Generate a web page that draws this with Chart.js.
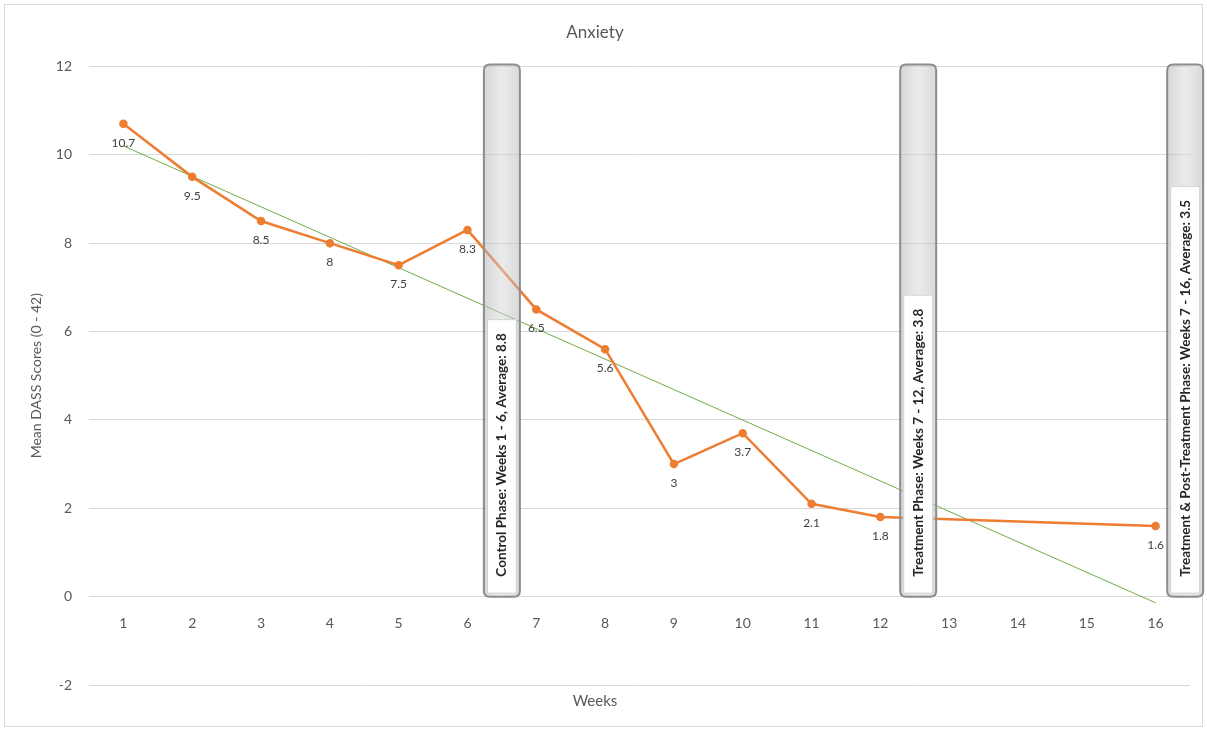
<!DOCTYPE html>
<html>
<head>
<meta charset="utf-8">
<script src="https://cdn.jsdelivr.net/npm/chart.js@4.4.1/dist/chart.umd.min.js"></script>
<style>
  html, body { margin: 0; padding: 0; background: #fff; }
  #wrap { width: 1207px; height: 731px; }
</style>
</head>
<body>
<div id="wrap"><canvas id="anxiety-chart"></canvas></div>
<script>
// weeks 13-15 have no score
const weeks = [1, 2, 3, 4, 5, 6, 7, 8, 9, 10, 11, 12, 13, 14, 15, 16];
const anxietyScores = [10.7, 9.5, 8.5, 8, 7.5, 8.3, 6.5, 5.6, 3, 3.7, 2.1, 1.8, null, null, null, 1.6];
const trendWeeks = [1, 16];
const trendValues = [10.2, -0.14];
const yTicks = [-2, 0, 2, 4, 6, 8, 10, 12];
const phaseLabels = [
    'Control Phase: Weeks 1 - 6, Average: 8.8',
    'Treatment Phase: Weeks 7 - 12, Average: 3.8',
    'Treatment & Post-Treatment Phase: Weeks 7 - 16, Average: 3.5'
];
const phaseWeeks = [6.5, 12.55, 16.43];

const fontFamily = 'Lato, "Open Sans", sans-serif';
const textColor = '#595959';

function roundRect(ctx, x, y, w, h, r) {
    ctx.beginPath();
    ctx.moveTo(x + r, y);
    ctx.lineTo(x + w - r, y);
    ctx.quadraticCurveTo(x + w, y, x + w, y + r);
    ctx.lineTo(x + w, y + h - r);
    ctx.quadraticCurveTo(x + w, y + h, x + w - r, y + h);
    ctx.lineTo(x + r, y + h);
    ctx.quadraticCurveTo(x, y + h, x, y + h - r);
    ctx.lineTo(x, y + r);
    ctx.quadraticCurveTo(x, y, x + r, y);
    ctx.closePath();
}

// outer frame of the chart
const framePlugin = {
    id: 'frame',
    beforeDraw(chart) {
        const ctx = chart.ctx;
        ctx.save();
        ctx.fillStyle = '#fff';
        ctx.fillRect(0, 0, chart.width, chart.height);
        ctx.strokeStyle = '#d9d9d9';
        ctx.lineWidth = 1;
        ctx.strokeRect(4.5, 4.5, chart.width - 9, chart.height - 9);
        ctx.restore();
    }
};

// point labels under each marker
const pointLabelPlugin = {
    id: 'pointLabels',
    afterDatasetsDraw(chart) {
        const ctx = chart.ctx;
        const meta = chart.getDatasetMeta(0);
        ctx.save();
        ctx.font = '12px ' + fontFamily;
        ctx.fillStyle = '#404040';
        ctx.textAlign = 'center';
        ctx.textBaseline = 'middle';
        meta.data.forEach((pt, i) => {
            const v = anxietyScores[i];
            if (v === null) return;
            ctx.fillText(String(v), pt.x, pt.y + 19);
        });
        ctx.restore();
    }
};

// the grey phase call-outs
const phasePlugin = {
    id: 'phases',
    afterDatasetsDraw(chart) {
        const ctx = chart.ctx;
        const xs = chart.scales.x;
        const ys = chart.scales.y;
        const top = ys.getPixelForValue(12) - 2;
        const bottom = ys.getPixelForValue(0);
        const w = 36;
        ctx.save();
        ctx.font = 'bold 13.5px ' + fontFamily;
        phaseLabels.forEach((label, i) => {
            const cx = xs.getPixelForValue(phaseWeeks[i]);
            const left = cx - w / 2;
            const textW = ctx.measureText(label).width;
            const textStart = bottom - 20;
            const whiteTop = textStart - textW - 14;

            roundRect(ctx, left, top, w, bottom - top, 6);
            const grad = ctx.createLinearGradient(left, 0, left + w, 0);
            grad.addColorStop(0, 'rgba(175,175,175,0.5)');
            grad.addColorStop(0.5, 'rgba(215,215,215,0.5)');
            grad.addColorStop(1, 'rgba(180,180,180,0.5)');
            ctx.fillStyle = grad;
            ctx.fill();

            ctx.fillStyle = '#fff';
            ctx.fillRect(left + 3, whiteTop, w - 6, bottom - whiteTop - 3);
            ctx.strokeStyle = '#cfcfcf';
            ctx.lineWidth = 1;
            ctx.strokeRect(left + 3.5, whiteTop + 0.5, w - 7, bottom - whiteTop - 4);

            roundRect(ctx, left, top, w, bottom - top, 6);
            ctx.strokeStyle = '#8c8c8c';
            ctx.lineWidth = 2;
            ctx.stroke();

            ctx.save();
            ctx.translate(cx, textStart);
            ctx.rotate(-Math.PI / 2);
            ctx.fillStyle = '#262626';
            ctx.textAlign = 'left';
            ctx.textBaseline = 'middle';
            ctx.fillText(label, 0, 0);
            ctx.restore();
        });
        ctx.restore();
    }
};

const ctx = document.getElementById('anxiety-chart').getContext('2d');
new Chart(ctx, {
    type: 'line',
    data: {
        datasets: [
            {
                label: 'Anxiety',
                data: weeks.map((w, i) => ({ x: w, y: anxietyScores[i] })),
                borderColor: '#ED7D31',
                backgroundColor: '#ED7D31',
                borderWidth: 2.5,
                pointRadius: 3,
                pointBackgroundColor: '#ED7D31',
                pointBorderColor: '#ED7D31',
                spanGaps: true,
                tension: 0,
                order: 1
            },
            {
                label: 'Linear (Anxiety)',
                data: trendWeeks.map((w, i) => ({ x: w, y: trendValues[i] })),
                borderColor: '#70AD47',
                borderWidth: 1,
                pointRadius: 0,
                tension: 0,
                order: 2
            }
        ]
    },
    options: {
        responsive: true,
        maintainAspectRatio: false,
        animation: false,
        layout: { padding: { left: 0, right: 17, top: 0, bottom: 0 } },
        plugins: {
            legend: { display: false },
            tooltip: { enabled: false },
            title: {
                display: true,
                text: 'Anxiety',
                color: textColor,
                font: { family: fontFamily, size: 17, weight: 'normal' },
                padding: { top: 22, bottom: 24 }
            },
            subtitle: {
                display: true,
                position: 'bottom',
                text: 'Weeks',
                color: textColor,
                font: { family: fontFamily, size: 15, weight: 'normal' },
                padding: { top: 7, bottom: 21 }
            }
        },
        scales: {
            x: {
                type: 'linear',
                min: 0.5,
                max: 16.5,
                position: { y: 0 },
                afterBuildTicks: (scale) => {
                    scale.ticks = weeks.map(w => ({ value: w }));
                },
                grid: { display: false, drawTicks: false },
                border: { display: false },
                ticks: {
                    color: textColor,
                    padding: 18,
                    autoSkip: false,
                    maxRotation: 0,
                    font: { family: fontFamily, size: 14 }
                }
            },
            y: {
                min: -2,
                max: 12,
                afterBuildTicks: (scale) => {
                    scale.ticks = yTicks.map(v => ({ value: v }));
                },
                afterFit: (scale) => { scale.width = 89; },
                grid: { color: '#d9d9d9', lineWidth: 1, drawTicks: false },
                border: { display: false },
                ticks: {
                    color: textColor,
                    padding: 17,
                    font: { family: fontFamily, size: 14 }
                },
                title: {
                    display: true,
                    text: 'Mean DASS Scores (0 - 42)',
                    color: textColor,
                    font: { family: fontFamily, size: 14 },
                    padding: { top: 28, bottom: 4 }
                }
            }
        }
    },
    plugins: [framePlugin, pointLabelPlugin, phasePlugin]
});
</script>
</body>
</html>
